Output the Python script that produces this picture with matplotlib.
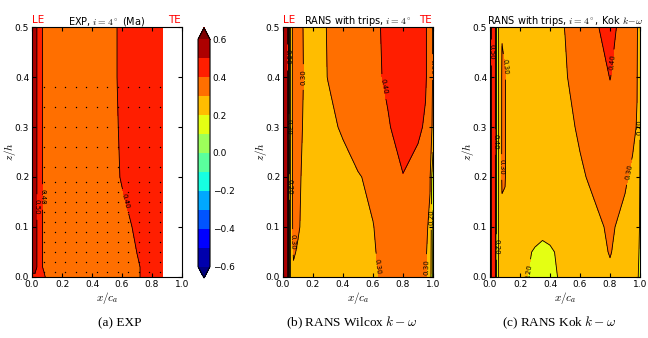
import matplotlib
matplotlib.use("Agg")
import matplotlib.pyplot as plt
import numpy as np

plt.rcParams['mathtext.fontset'] = 'cm'
plt.rcParams['font.size'] = 6.5

# contour levels of the Mach number field
levels = np.round(np.arange(-0.6, 0.61, 0.1), 2)
cbar_ticks = [-0.6, -0.4, -0.2, 0.0, 0.2, 0.4, 0.6]

# (a) experiment, five-hole probe traverse
x_exp = [0.0, 0.02, 0.04, 0.06, 0.08, 0.10, 0.30, 0.50, 0.60, 0.70, 0.80, 0.87]
z_exp = [0.0, 0.02, 0.1, 0.2, 0.3, 0.4, 0.5]
mach_exp = [
    [0.45, 0.47, 0.46, 0.44, 0.42, 0.37, 0.36, 0.36, 0.37, 0.395, 0.42, 0.43],
    [0.58, 0.55, 0.47, 0.42, 0.38, 0.36, 0.36, 0.36, 0.37, 0.395, 0.42, 0.43],
    [0.58, 0.55, 0.47, 0.42, 0.38, 0.36, 0.36, 0.365, 0.38, 0.41, 0.43, 0.44],
    [0.58, 0.55, 0.47, 0.42, 0.38, 0.36, 0.36, 0.37, 0.405, 0.43, 0.44, 0.44],
    [0.58, 0.55, 0.47, 0.42, 0.38, 0.36, 0.36, 0.37, 0.41, 0.43, 0.44, 0.44],
    [0.58, 0.55, 0.47, 0.42, 0.38, 0.36, 0.36, 0.37, 0.415, 0.43, 0.44, 0.44],
    [0.58, 0.55, 0.47, 0.42, 0.38, 0.36, 0.36, 0.37, 0.415, 0.43, 0.44, 0.44],
]
x_probe = [0.08, 0.15, 0.22, 0.29, 0.36, 0.43, 0.50, 0.57, 0.64, 0.71, 0.78, 0.85]
z_probe = [0.01, 0.03, 0.05, 0.07, 0.09, 0.11, 0.13, 0.15, 0.17, 0.19,
           0.22, 0.26, 0.30, 0.34, 0.38]

# (b) RANS Wilcox k-omega
x_wil = [0.0, 0.02, 0.035, 0.045, 0.055, 0.07, 0.1, 0.15, 0.2, 0.3,
         0.4, 0.5, 0.6, 0.7, 0.8, 0.9, 0.95, 0.98, 1.0]
z_wil = [0.0, 0.05, 0.1, 0.2, 0.3, 0.4, 0.5]
mach_wil = [
    [0.58, 0.55, 0.45, 0.15, 0.25, 0.28, 0.27, 0.26, 0.25, 0.25, 0.255, 0.265, 0.29, 0.315, 0.33, 0.32, 0.305, 0.26, 0.08],
    [0.58, 0.55, 0.45, 0.15, 0.25, 0.31, 0.29, 0.27, 0.26, 0.25, 0.255, 0.26, 0.295, 0.32, 0.34, 0.33, 0.31, 0.27, 0.08],
    [0.58, 0.55, 0.45, 0.15, 0.25, 0.33, 0.31, 0.27, 0.26, 0.255, 0.26, 0.27, 0.298, 0.33, 0.36, 0.35, 0.32, 0.28, 0.09],
    [0.58, 0.55, 0.45, 0.15, 0.25, 0.34, 0.32, 0.27, 0.265, 0.26, 0.27, 0.295, 0.315, 0.345, 0.398, 0.37, 0.34, 0.31, 0.12],
    [0.58, 0.55, 0.45, 0.15, 0.25, 0.35, 0.33, 0.28, 0.27, 0.28, 0.31, 0.34, 0.36, 0.395, 0.425, 0.415, 0.39, 0.34, 0.28],
    [0.58, 0.55, 0.45, 0.15, 0.25, 0.35, 0.34, 0.285, 0.265, 0.302, 0.33, 0.355, 0.385, 0.41, 0.44, 0.43, 0.41, 0.36, 0.29],
    [0.58, 0.55, 0.45, 0.15, 0.25, 0.35, 0.34, 0.28, 0.26, 0.305, 0.34, 0.36, 0.39, 0.41, 0.44, 0.43, 0.41, 0.36, 0.29],
]

# (c) RANS Kok k-omega
x_kok = [0.0, 0.02, 0.035, 0.045, 0.06, 0.08, 0.1, 0.12, 0.2, 0.3, 0.35,
         0.4, 0.5, 0.6, 0.7, 0.8, 0.9, 0.95, 0.98, 1.0]
z_kok = [0.0, 0.05, 0.1, 0.2, 0.3, 0.4, 0.5]
mach_kok = [
    [0.52, 0.47, 0.42, 0.15, 0.22, 0.26, 0.26, 0.25, 0.23, 0.17, 0.16, 0.17, 0.23, 0.255, 0.27, 0.29, 0.27, 0.25, 0.22, 0.17],
    [0.52, 0.47, 0.42, 0.15, 0.22, 0.27, 0.27, 0.26, 0.235, 0.19, 0.17, 0.185, 0.235, 0.26, 0.28, 0.303, 0.275, 0.26, 0.235, 0.18],
    [0.52, 0.47, 0.42, 0.15, 0.22, 0.28, 0.28, 0.265, 0.25, 0.24, 0.235, 0.24, 0.25, 0.27, 0.285, 0.31, 0.28, 0.265, 0.245, 0.19],
    [0.52, 0.47, 0.42, 0.15, 0.22, 0.31, 0.305, 0.27, 0.255, 0.255, 0.255, 0.26, 0.27, 0.29, 0.315, 0.34, 0.31, 0.285, 0.26, 0.195],
    [0.52, 0.47, 0.42, 0.15, 0.22, 0.31, 0.305, 0.27, 0.26, 0.26, 0.265, 0.27, 0.28, 0.31, 0.34, 0.37, 0.35, 0.32, 0.295, 0.198],
    [0.52, 0.47, 0.42, 0.15, 0.22, 0.31, 0.305, 0.27, 0.26, 0.265, 0.27, 0.28, 0.295, 0.325, 0.36, 0.402, 0.36, 0.33, 0.305, 0.21],
    [0.52, 0.47, 0.42, 0.15, 0.22, 0.295, 0.28, 0.27, 0.26, 0.27, 0.275, 0.28, 0.301, 0.33, 0.39, 0.43, 0.36, 0.33, 0.31, 0.24],
]

titles = [r"EXP, $i=4^\circ$ (Ma)",
          r"RANS with trips, $i=4^\circ$",
          r"RANS with trips, $i=4^\circ$, Kok $k\!-\!\omega$"]
captions = ["(a) EXP", r"(b) RANS Wilcox $k-\omega$", r"(c) RANS Kok $k-\omega$"]

# where the contour labels sit (x/c_a, z/h)
label_spots = [
    [(0.03, 0.14), (0.07, 0.16), (0.61, 0.15)],
    [(0.13, 0.40), (0.03, 0.44), (0.04, 0.30), (0.045, 0.18), (0.06, 0.07),
     (0.66, 0.38), (0.60, 0.02), (0.95, 0.02), (0.99, 0.42), (0.99, 0.12)],
    [(0.80, 0.43), (0.92, 0.21), (0.99, 0.30), (0.26, 0.01), (0.09, 0.42),
     (0.07, 0.22), (0.02, 0.45), (0.03, 0.27), (0.045, 0.06)],
]

fig = plt.figure(figsize=(6.48, 3.38), dpi=100)
ax_left = [0.0494, 0.4367, 0.7562]
caption_x = [0.185, 0.542, 0.863]
axes = [fig.add_axes([l, 0.1805, 0.2315, 0.7396]) for l in ax_left]
cax = fig.add_axes([0.3056, 0.1775, 0.0185, 0.74])

fields = [(x_exp, z_exp, mach_exp), (x_wil, z_wil, mach_wil), (x_kok, z_kok, mach_kok)]

for i, (ax, (xs, zs, mach)) in enumerate(zip(axes, fields)):
    X, Z = np.meshgrid(xs, zs)
    M = np.array(mach)
    cf = ax.contourf(X, Z, M, levels=levels, cmap='jet', extend='both')
    cs = ax.contour(X, Z, M, levels=levels, colors='k', linewidths=0.6)
    ax.set_xlim(0, 1.0)
    ax.set_ylim(0, 0.5)
    ax.clabel(cs, fmt='%.2f', fontsize=5, inline=True, manual=label_spots[i])
    if i == 0:
        cf_exp = cf
        PX, PZ = np.meshgrid(x_probe, z_probe)
        ax.scatter(PX.ravel(), PZ.ravel(), s=1.0, color='k', linewidths=0)
    ax.set_xticks([0.0, 0.2, 0.4, 0.6, 0.8, 1.0])
    ax.set_yticks([0.0, 0.1, 0.2, 0.3, 0.4, 0.5])
    ax.tick_params(direction='in', top=True, right=True, labelsize=6.5, length=3, pad=2)
    ax.set_xlabel(r"$x/c_a$", fontsize=8, labelpad=1)
    ax.set_ylabel(r"$z/h$", fontsize=8)
    ax.yaxis.set_label_coords(-0.095, 0.5)
    ax.set_title(titles[i], fontsize=7, pad=2)
    if i < 2:
        ax.text(0.0, 1.01, "LE", color='red', fontsize=7.5, transform=ax.transAxes,
                ha='left', va='bottom')
        ax.text(0.99, 1.01, "TE", color='red', fontsize=7.5, transform=ax.transAxes,
                ha='right', va='bottom')
    fig.text(caption_x[i], 0.045, captions[i], ha='center', va='center',
             family='Liberation Serif', fontsize=9.5)

cb = fig.colorbar(cf_exp, cax=cax, ticks=cbar_ticks)
cb.ax.set_yticklabels([f"{t:.1f}".replace('-', '\u2212') for t in cbar_ticks])
cb.ax.tick_params(labelsize=6.5, length=0, pad=2)

fig.savefig("out.png", dpi=100)
